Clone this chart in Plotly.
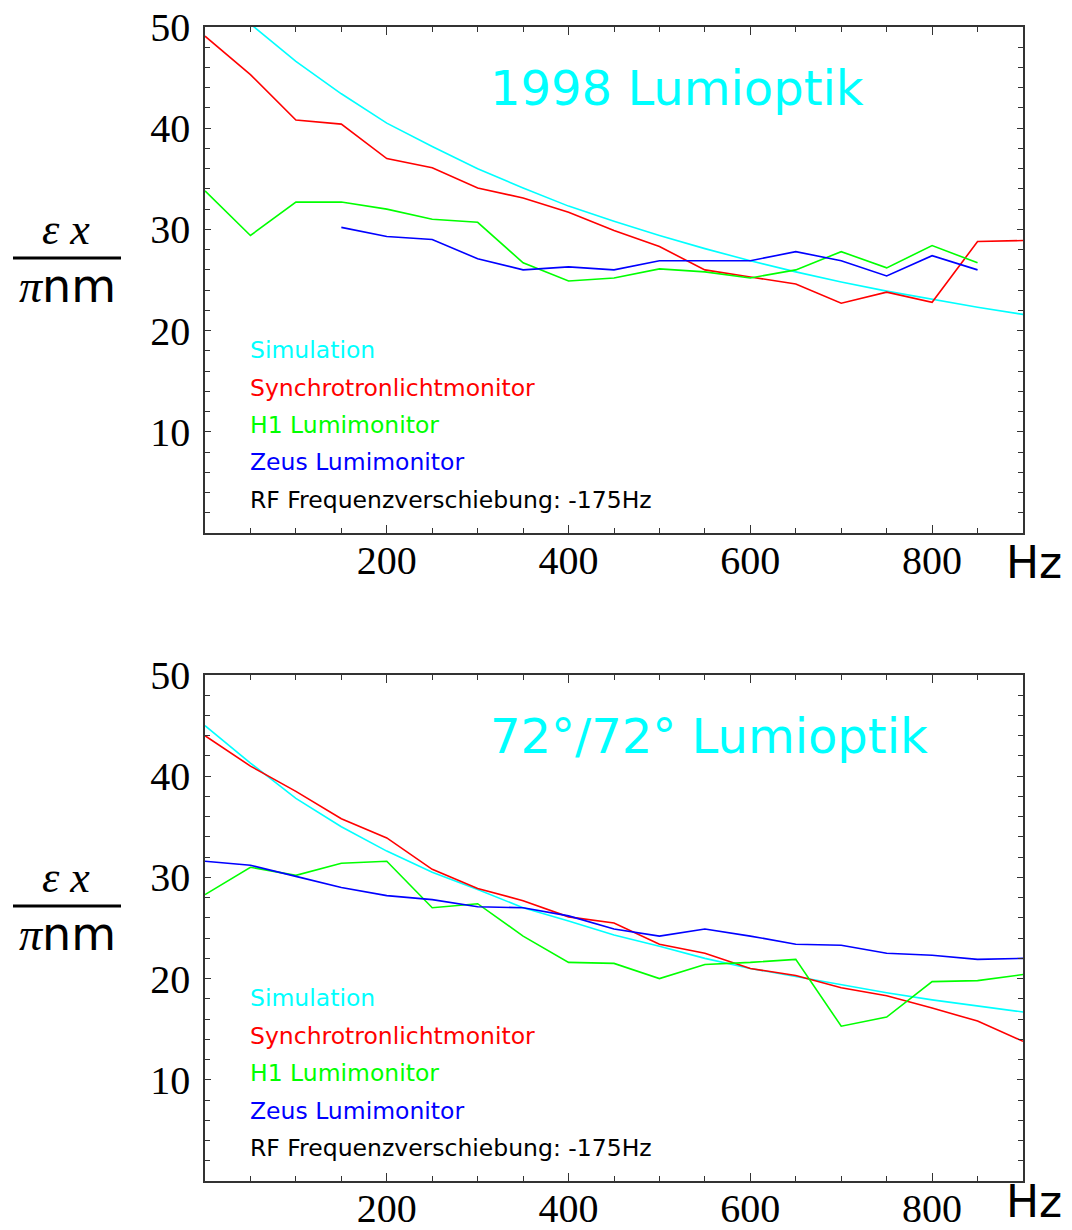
import plotly.graph_objects as go

# Frequency shift steps (Hz)
freq = [0, 50, 100, 150, 200, 250, 300, 350, 400, 450,
        500, 550, 600, 650, 700, 750, 800, 850, 900]

# ---- 1998 Lumioptik ----
sim_1998 = [54.0, 50.3, 46.6, 43.4, 40.5, 38.2, 36.0, 34.1, 32.3, 30.8,
            29.4, 28.1, 26.9, 25.8, 24.8, 23.9, 23.1, 22.3, 21.6]
sync_1998 = [49.1, 45.3, 40.8, 40.4, 37.0, 36.1, 34.1, 33.1, 31.7, 29.9,
             28.3, 26.0, 25.3, 24.6, 22.7, 23.8, 22.8, 28.8, 28.9]
h1_freq_1998 = [0, 50, 100, 150, 200, 250, 300, 350, 400, 450,
                500, 550, 600, 650, 700, 750, 800, 850]
h1_1998 = [33.8, 29.4, 32.7, 32.7, 32.0, 31.0, 30.7, 26.7, 24.9, 25.2,
           26.1, 25.8, 25.2, 26.0, 27.8, 26.2, 28.4, 26.7]
zeus_freq_1998 = [150, 200, 250, 300, 350, 400, 450,
                  500, 550, 600, 650, 700, 750, 800, 850]
zeus_1998 = [30.2, 29.3, 29.0, 27.1, 26.0, 26.3, 26.0,
             26.9, 26.9, 26.9, 27.8, 26.9, 25.4, 27.4, 26.0]

# ---- 72°/72° Lumioptik ----
sim_72 = [45.0, 41.3, 37.8, 35.0, 32.6, 30.5, 28.8, 27.0, 25.7, 24.3,
          23.2, 22.0, 21.0, 20.2, 19.4, 18.6, 17.9, 17.3, 16.7]
sync_72 = [44.0, 41.0, 38.5, 35.8, 33.9, 30.8, 28.9, 27.7, 26.1, 25.5,
           23.4, 22.5, 21.0, 20.3, 19.1, 18.3, 17.1, 15.8, 13.8]
h1_72 = [28.3, 31.0, 30.2, 31.4, 31.6, 27.0, 27.4, 24.2, 21.6, 21.5,
         20.0, 21.4, 21.6, 21.9, 15.3, 16.2, 19.7, 19.8, 20.4]
zeus_72 = [31.6, 31.2, 30.1, 29.0, 28.2, 27.8, 27.1, 27.0, 26.2, 24.9,
           24.2, 24.9, 24.2, 23.4, 23.3, 22.5, 22.3, 21.9, 22.0]

x_ticks = [200, 400, 600, 800]
y_ticks = [10, 20, 30, 40, 50]

titles = ["1998 Lumioptik", "72°/72° Lumioptik"]
legend_items = [("Simulation", "#00ffff"),
                ("Synchrotronlichtmonitor", "#ff0000"),
                ("H1 Lumimonitor", "#00ff00"),
                ("Zeus Lumimonitor", "#0000ff"),
                ("RF Frequenzverschiebung: -175Hz", "#000000")]

CYAN, RED, GREEN, BLUE = "#00ffff", "#ff0000", "#00ff00", "#0000ff"

W, H = 1072, 1230


def px(x):
    return x / W


def py(y):
    return 1 - y / H


fig = go.Figure()

panels = [
    ("x", "y", [(freq, sim_1998, CYAN), (freq, sync_1998, RED),
                (h1_freq_1998, h1_1998, GREEN), (zeus_freq_1998, zeus_1998, BLUE)]),
    ("x2", "y2", [(freq, sim_72, CYAN), (freq, sync_72, RED),
                  (freq, h1_72, GREEN), (freq, zeus_72, BLUE)]),
]

for xa, ya, series in panels:
    for xs, ys, col in series:
        fig.add_trace(go.Scatter(x=xs, y=ys, xaxis=xa, yaxis=ya, mode="lines",
                                 line=dict(color=col, width=1.6),
                                 showlegend=False, hoverinfo="skip"))

axis_common = dict(showline=True, mirror="ticks", linecolor="#333333", linewidth=1.5,
                   ticks="inside", tickcolor="#333333", tickwidth=1.2,
                   showgrid=False, zeroline=False, automargin=False,
                   tickfont=dict(family="Liberation Serif", size=40, color="#000000"))

xdom = [px(205), px(1023)]
top_plot = (27, 533)
bot_plot = (675, 1181)

for i, (top, bot) in enumerate([top_plot, bot_plot]):
    suffix = "" if i == 0 else str(i + 1)
    fig.update_layout({
        f"xaxis{suffix}": dict(axis_common, domain=xdom, range=[0, 900],
                               tickvals=x_ticks, ticklen=8, ticklabelstandoff=-9,
                               minor=dict(dtick=50, tick0=0, ticks="inside", ticklen=5,
                                          tickcolor="#333333", tickwidth=1.2),
                               anchor=f"y{suffix}"),
        f"yaxis{suffix}": dict(axis_common, domain=[py(bot), py(top)], range=[0, 50],
                               tickvals=y_ticks, ticklen=6, ticklabelstandoff=5,
                               minor=dict(dtick=2, tick0=0, ticks="inside", ticklen=5,
                                          tickcolor="#333333", tickwidth=1.2),
                               anchor=f"x{suffix}"),
    })

annotations = []
shapes = []
for i, (top, bot) in enumerate([top_plot, bot_plot]):
    off = top - 27
    # Panel title
    annotations.append(dict(x=px(488), y=py(88 + off), xref="paper", yref="paper",
                            xanchor="left", yanchor="middle", showarrow=False,
                            text=titles[i],
                            font=dict(family="DejaVu Sans", size=48, color=CYAN)))
    # Legend-like text block
    for k, (label, col) in enumerate(legend_items):
        annotations.append(dict(x=px(248), y=py(350 + 37.5 * k + off), xref="paper",
                                yref="paper", xanchor="left", yanchor="middle",
                                showarrow=False, text=label,
                                font=dict(family="DejaVu Sans", size=23.5, color=col)))
    # Hz unit (bottom edge kept inside the page)
    annotations.append(dict(x=px(1034), y=py(min(590 + off, 1229)), xref="paper",
                            yref="paper", xanchor="center", yanchor="bottom",
                            showarrow=False, text="Hz",
                            font=dict(family="DejaVu Sans", size=44, color="#000000")))
    # Y axis label as a fraction: eps_x / (pi nm)
    line_y = 258 + off
    annotations.append(dict(x=px(66), y=py(line_y - 2), xref="paper", yref="paper",
                            xanchor="center", yanchor="bottom", showarrow=False,
                            text="<i>ε x</i>",
                            font=dict(family="Liberation Serif", size=44, color="#000000")))
    annotations.append(dict(x=px(67), y=py(line_y - 1), xref="paper", yref="paper",
                            xanchor="center", yanchor="top", showarrow=False,
                            text="<span style='font-family:Liberation Serif'><i>π</i></span>nm",
                            font=dict(family="DejaVu Sans", size=46, color="#000000")))
    shapes.append(dict(type="line", xref="paper", yref="paper",
                       x0=px(13), x1=px(121), y0=py(line_y), y1=py(line_y),
                       line=dict(color="#000000", width=3)))

fig.update_layout(width=W, height=H, margin=dict(l=0, r=0, t=0, b=0),
                  paper_bgcolor="white", plot_bgcolor="white",
                  annotations=annotations, shapes=shapes, showlegend=False)

fig.write_html("out.html")
